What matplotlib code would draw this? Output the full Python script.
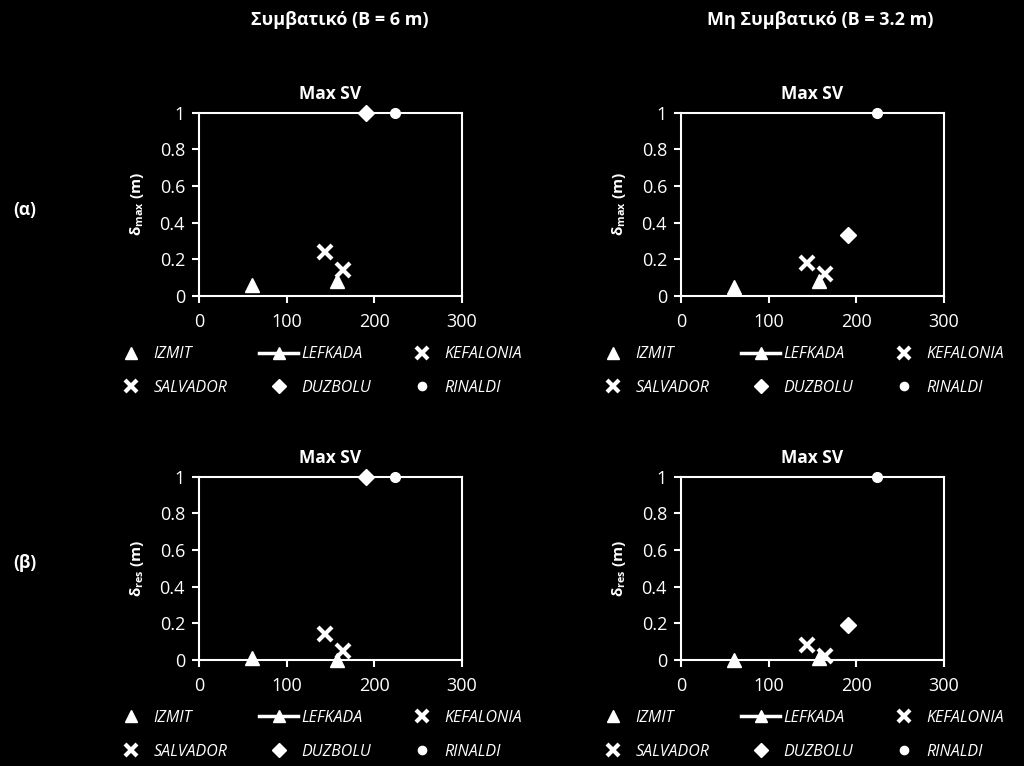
import matplotlib
matplotlib.use('Agg')
import matplotlib.pyplot as plt

plt.rcParams['font.family'] = ['Open Sans', 'DejaVu Sans']
plt.rcParams['mathtext.fontset'] = 'custom'
plt.rcParams['mathtext.rm'] = 'Open Sans'
plt.rcParams['mathtext.bf'] = 'Open Sans:bold'
plt.rcParams['mathtext.default'] = 'regular'

# Data: Max SV (x) and displacement (y) per earthquake record
records = ['IZMIT', 'LEFKADA', 'KEFALONIA', 'SALVADOR', 'DUZBOLU', 'RINALDI']
max_sv = [61, 158, 164, 144, 190, 224]

dmax_conv = [0.06, 0.08, 0.14, 0.24, 1.0, 1.0]
dmax_nonconv = [0.05, 0.08, 0.12, 0.18, 0.33, 1.0]
dres_conv = [0.01, 0.0, 0.05, 0.14, 1.0, 1.0]
dres_nonconv = [0.0, 0.01, 0.02, 0.08, 0.19, 1.0]

col_titles = ['Συμβατικό (B = 6 m)', 'Μη Συμβατικό (B = 3.2 m)']
row_labels = ['(α)', '(β)']
y_labels = [r'δ$_{max}$ (m)', r'δ$_{res}$ (m)']

markers = ['^', '^', 'x', 'x', 'D', 'o']
sizes = [10, 10, 10, 10, 8, 7]
linestyles = ['none', '-', 'none', 'none', 'none', 'none']

fig = plt.figure(figsize=(10.24, 7.66), dpi=100, facecolor='black')

panels = [[dmax_conv, dmax_nonconv], [dres_conv, dres_nonconv]]
lefts = [0.1943, 0.665]
bottoms = [0.6136, 0.1384]
legend_tops = [0.548, 0.073]

# legend fills columns first, so reorder to get rows of three
order = [0, 3, 1, 4, 2, 5]

for r in range(2):
    for c in range(2):
        ax = fig.add_axes([lefts[c], bottoms[r], 0.2568, 0.2393])
        ax.set_facecolor('black')
        vals = panels[r][c]
        for i, name in enumerate(records):
            ax.plot([max_sv[i]], [vals[i]], marker=markers[i], ms=sizes[i],
                    mew=3 if markers[i] == 'x' else 1, color='white',
                    linestyle=linestyles[i], lw=2.5, label=name,
                    clip_on=False, zorder=5)
        ax.set_xlim(0, 300)
        ax.set_ylim(0, 1)
        ax.set_xticks([0, 100, 200, 300])
        ax.set_yticks([0, 0.2, 0.4, 0.6, 0.8, 1])
        ax.set_yticklabels(['0', '0.2', '0.4', '0.6', '0.8', '1'])
        for s in ax.spines.values():
            s.set_color('white')
            s.set_linewidth(1.5)
        ax.tick_params(colors='white', labelsize=13, length=5, width=1.5)
        ax.tick_params(axis='x', pad=7)
        ax.tick_params(axis='y', pad=5)
        ax.set_title('Max SV', color='white', fontsize=12.5, fontweight='bold', pad=10)
        ax.set_ylabel(y_labels[r], color='white', fontsize=11, fontweight='bold', labelpad=10)

        handles, labels = ax.get_legend_handles_labels()
        handles = [handles[k] for k in order]
        labels = [labels[k] for k in order]
        x0 = (112 if c == 0 else 594) / 1024
        fig.legend(handles, labels, loc='upper left', bbox_to_anchor=(x0, legend_tops[r]),
                   ncol=3, frameon=False, labelcolor='white',
                   prop={'style': 'italic', 'size': 11.5}, handlelength=2.4,
                   handletextpad=0.2, columnspacing=2.0, labelspacing=1.1,
                   borderpad=0, borderaxespad=0, markerscale=0.85)

title_x = [340 / 1024, 820 / 1024]
for c in range(2):
    fig.text(title_x[c], 1 - 20 / 766, col_titles[c], color='white', fontsize=13,
             fontweight='bold', ha='center', va='center')
fig.text(25 / 1024, 1 - 210 / 766, row_labels[0], color='white', fontsize=12.5,
         fontweight='bold', ha='center', va='center')
fig.text(25 / 1024, 1 - 563 / 766, row_labels[1], color='white', fontsize=12.5,
         fontweight='bold', ha='center', va='center')

fig.savefig('out.png', dpi=100, facecolor='black')
